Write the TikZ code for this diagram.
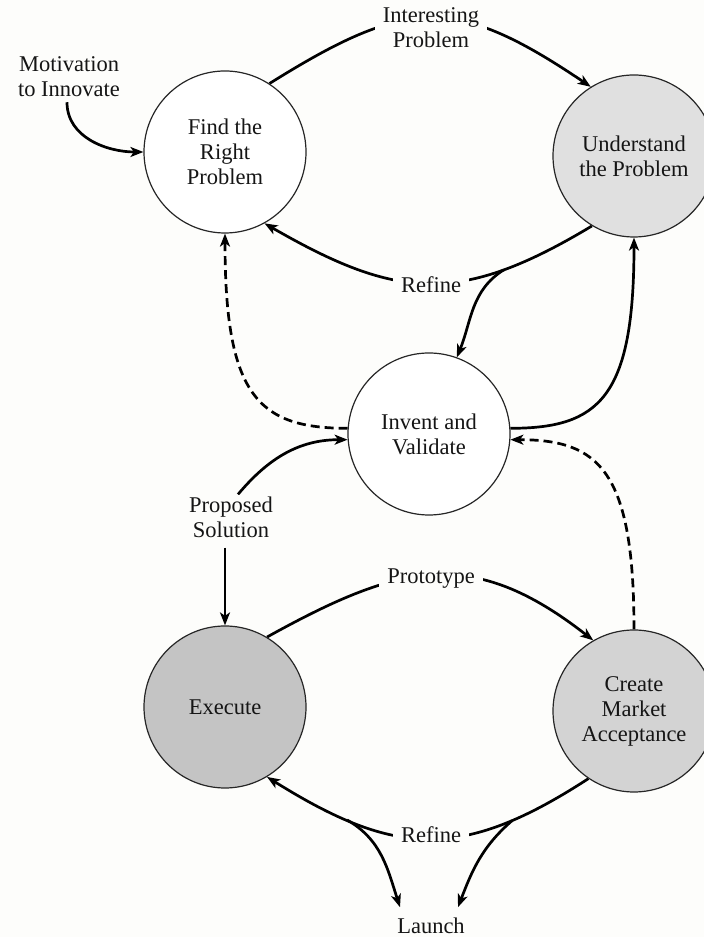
\documentclass[tikz,border=0pt]{standalone}
\usepackage{fontspec}
\setmainfont{Liberation Serif}
\usetikzlibrary{arrows.meta}
\definecolor{bgc}{HTML}{FDFDFB}
\definecolor{cUnd}{HTML}{E0E0E0}
\definecolor{cCre}{HTML}{D3D3D3}
\definecolor{cExe}{HTML}{C4C4C4}
\definecolor{txt}{HTML}{151515}
\newcommand\labfont{\fontsize{22.5}{25}\selectfont}
\pgfdeclarelayer{background}
\pgfsetlayers{background,main}
\tikzset{
  circ/.style={circle, draw=black!85, line width=1.2pt, minimum size=162pt, inner sep=0pt, align=center, font=\labfont, text=txt},
  lab/.style={fill=bgc, inner xsep=8pt, inner ysep=2pt, align=center, font=\labfont, text=txt},
  conn/.style={line width=2.7pt, -{Stealth[length=13pt,width=10pt,inset=3.5pt]}},
  dconn/.style={conn, dash pattern=on 9pt off 5pt}
}
\begin{document}
\begin{tikzpicture}[x=1pt,y=1pt]
\begin{pgfonlayer}{background}
\fill[bgc] (0,0) rectangle (704,937);
\end{pgfonlayer}
\useasboundingbox (0,0) rectangle (704,937);
% circles
\node[circ, fill=white] (find) at (225,785) {Find the\\Right\\Problem};
\node[circ, fill=cUnd] (und) at (634,781) {Understand\\the Problem};
\node[circ, fill=white] (inv) at (429,503) {Invent and\\Validate};
\node[circ, fill=cExe] (exe) at (225,230) {Execute};
\node[circ, fill=cCre] (cre) at (634,226) {Create\\Market\\Acceptance};
% labels
\node[lab] (mot) at (69,860) {Motivation\\to Innovate};
\node[lab] (int) at (431,909) {Interesting\\Problem};
\node[lab, anchor=base] (ref1) at (431,644) {Refine};
\node[lab] (prop) at (231,420) {Proposed\\Solution};
\node[lab, anchor=base] (proto) at (431,353) {Prototype};
\node[lab, anchor=base] (ref2) at (431,94) {Refine};
\node[lab, anchor=base] (launch) at (431,4) {Launch};
% connectors
\begin{pgfonlayer}{background}
\draw[conn] ([xshift=-2pt,yshift=-3pt]mot.south) to[out=-90,in=180] (find.west);
\draw[conn] (find.57) to[out=32,in=146,looseness=1.3] (und.122);
\draw[conn] (und.-121) to[out=-149,in=-30,looseness=1.2] coordinate[pos=0.25] (ub) (find.-61);
\draw[conn] (ub) to[out=-148,in=68] (inv.70);
\draw[conn] (inv.4) to[out=0,in=-90,in looseness=1.8] (und.south);
\draw[dconn] (inv.176) to[out=180,in=-90,in looseness=1.8] (find.south);
\draw[conn] ([xshift=7pt]prop.north) to[out=50,in=180] (inv.184);
\draw[conn] ([xshift=-6pt,yshift=-8pt]prop.south) -- (exe.north);
\draw[conn] (exe.59) to[out=29,in=142,looseness=1.2] (cre.120);
\draw[dconn] (cre.north) to[out=90,in=0,out looseness=1.8] (inv.-4);
\draw[conn] (cre.-124) to[out=-147,in=-32,looseness=1.2] coordinate[pos=0.22] (cb) coordinate[pos=0.77] (eb) (exe.-59);
\draw[conn] (cb) to[out=-139,in=69] ([xshift=27pt,yshift=8pt]launch.north);
\draw[conn] (eb) to[out=-30,in=108] ([xshift=-31pt,yshift=8pt]launch.north);
\end{pgfonlayer}
\end{tikzpicture}
\end{document}
